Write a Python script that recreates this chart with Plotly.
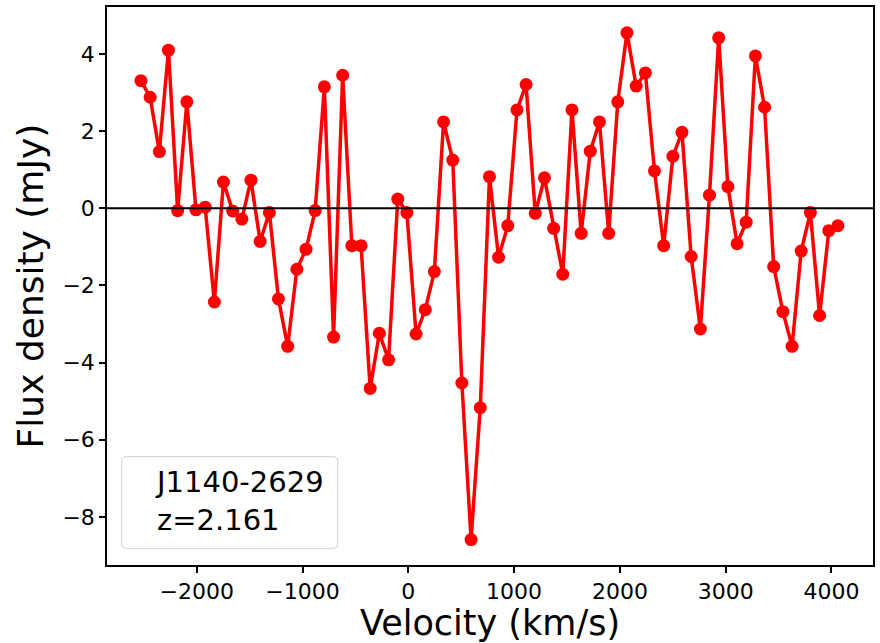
import plotly.graph_objects as go

velocity = [-2528, -2441, -2354, -2268, -2181, -2094, -2008, -1921, -1834, -1748,
            -1661, -1574, -1488, -1401, -1314, -1228, -1141, -1054, -967, -881,
            -794, -707, -621, -534, -447, -361, -274, -187, -100, -14,
            73, 160, 246, 333, 420, 506, 593, 680, 767, 853,
            940, 1027, 1113, 1200, 1287, 1374, 1460, 1547, 1634, 1720,
            1807, 1894, 1980, 2067, 2154, 2241, 2327, 2414, 2501, 2587,
            2674, 2761, 2847, 2934, 3021, 3108, 3194, 3281, 3368, 3454,
            3541, 3628, 3714, 3801, 3888, 3975, 4061]
flux = [3.31, 2.88, 1.47, 4.10, -0.06, 2.76, -0.04, 0.03, -2.43, 0.68,
        -0.07, -0.28, 0.73, -0.86, -0.11, -2.35, -3.58, -1.58, -1.06, -0.06,
        3.15, -3.34, 3.45, -0.97, -0.97, -4.67, -3.24, -3.93, 0.24, -0.11,
        -3.26, -2.63, -1.64, 2.24, 1.25, -4.53, -8.59, -5.17, 0.82, -1.27,
        -0.45, 2.55, 3.21, -0.13, 0.79, -0.52, -1.71, 2.55, -0.65, 1.48,
        2.24, -0.65, 2.76, 4.55, 3.17, 3.51, 0.97, -0.97, 1.35, 1.97,
        -1.25, -3.13, 0.34, 4.42, 0.56, -0.92, -0.36, 3.95, 2.62, -1.51,
        -2.68, -3.58, -1.11, -0.11, -2.78, -0.58, -0.45]

x_ticks = [-2000, -1000, 0, 1000, 2000, 3000, 4000]
x_labels = ["\u22122000", "\u22121000", "0", "1000", "2000", "3000", "4000"]
y_ticks = [-8, -6, -4, -2, 0, 2, 4]
y_labels = ["\u22128", "\u22126", "\u22124", "\u22122", "0", "2", "4"]
legend_lines = ["J1140-2629", "z=2.161"]

FONT = "DejaVu Sans"
W, H = 880, 643
ML, MR, MT, MB = 107, 5, 7, 78
pw, ph = W - ML - MR, H - MT - MB

def px_x(p):
    return (p - ML) / pw

def px_y(p):
    return (H - MB - p) / ph

fig = go.Figure()
fig.add_trace(go.Scatter(
    x=velocity, y=flux, mode="lines+markers",
    line=dict(color="#ff0000", width=3.5),
    marker=dict(color="#ff0000", size=13),
    showlegend=False, hoverinfo="skip",
))

# zero line
fig.add_shape(type="line", xref="paper", yref="y", x0=0, x1=1, y0=0, y1=0,
              line=dict(color="black", width=2), layer="above")

# legend box (rounded)
bx0, bx1 = px_x(121.7), px_x(338.3)
by0, by1 = px_y(548.3), px_y(456.7)
rx, ry = 5 / pw, 5 / ph
path = (f"M {bx0+rx},{by0} L {bx1-rx},{by0} Q {bx1},{by0} {bx1},{by0+ry} "
        f"L {bx1},{by1-ry} Q {bx1},{by1} {bx1-rx},{by1} "
        f"L {bx0+rx},{by1} Q {bx0},{by1} {bx0},{by1-ry} "
        f"L {bx0},{by0+ry} Q {bx0},{by0} {bx0+rx},{by0} Z")
fig.add_shape(type="path", xref="paper", yref="paper", path=path,
              line=dict(color="#d9d9d9", width=1.2), fillcolor="rgba(255,255,255,0.8)",
              layer="above")
fig.add_annotation(xref="paper", yref="paper", x=px_x(153), y=px_y(501),
                   xanchor="left", yanchor="middle", align="left", showarrow=False,
                   text="<br>".join(legend_lines),
                   font=dict(family=FONT, size=29, color="black"))

axis_common = dict(
    showline=True, linecolor="black", linewidth=1.5, mirror=True,
    ticks="outside", ticklen=6, tickwidth=1.5, tickcolor="black",
    showgrid=False, zeroline=False,
    tickfont=dict(family=FONT, size=22, color="black"),
)
fig.update_xaxes(range=[-2849, 4393], tickvals=x_ticks, ticktext=x_labels,
                 title=dict(text="Velocity (km/s)", font=dict(family=FONT, size=35, color="black"), standoff=4),
                 **axis_common)
fig.update_yaxes(range=[-9.25, 5.22], tickvals=y_ticks, ticktext=y_labels,
                 title=dict(text="Flux density (mJy)", font=dict(family=FONT, size=36, color="black"), standoff=8),
                 **axis_common)

fig.update_layout(
    width=W, height=H,
    margin=dict(l=ML, r=MR, t=MT, b=MB),
    plot_bgcolor="white", paper_bgcolor="white",
    font=dict(family=FONT),
)
fig.write_html("out.html")
